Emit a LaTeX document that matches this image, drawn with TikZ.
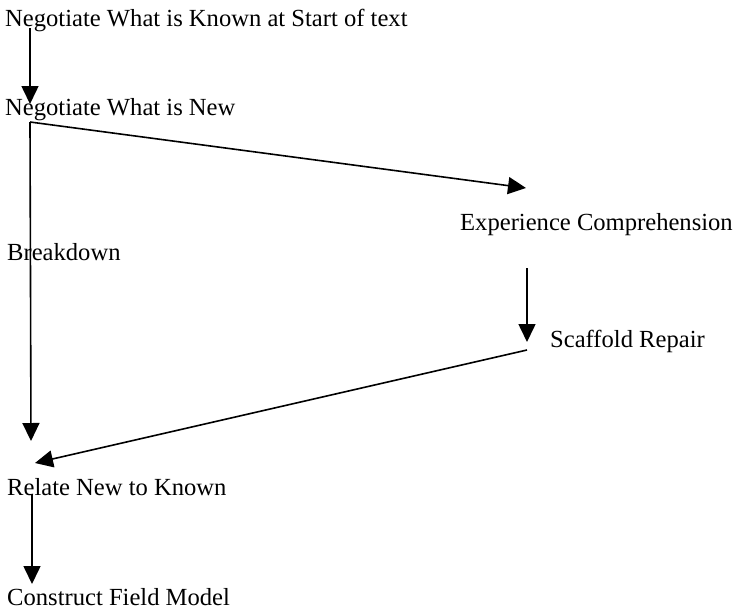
\documentclass[tikz,border=0pt]{standalone}
\usepackage{fontspec}
\setmainfont{Liberation Serif}
\usetikzlibrary{arrows.meta}
\begin{document}
\begin{tikzpicture}[x=1pt,y=-1pt,
  lbl/.style={anchor=base west,inner sep=0pt,font=\fontsize{24.6}{28}\selectfont},
  arr/.style={line width=1.6pt,-{Triangle[length=18pt,width=17pt]}}]
\useasboundingbox (0,0) rectangle (736,613);
\node[lbl] (known) at (5,27) {Negotiate What is Known at Start of text};
\node[lbl] (new) at (5,115) {Negotiate What is New};
\node[lbl] (exp) at (460,230) {Experience Comprehension};
\node[lbl] (brk) at (7,260) {Breakdown};
\node[lbl] (scf) at (550,347) {Scaffold Repair};
\node[lbl] (rel) at (7,495) {Relate New to Known};
\node[lbl] (cfm) at (7,605) {Construct Field Model};
\coordinate (a1s) at (30,28);
\coordinate (a1e) at (30,104);
\coordinate (nb) at (30,122);
\coordinate (expin) at (526,188);
\coordinate (relin) at (31,441);
\coordinate (e1) at (527,268);
\coordinate (e2) at (527,342);
\coordinate (s1) at (527,350);
\coordinate (s2) at (35,463);
\coordinate (r1) at (32,494);
\coordinate (r2) at (32,584);
\draw[arr] (a1s) -- (a1e);
\draw[arr] (nb) -- (expin);
\draw[arr] (nb) -- (relin);
\draw[arr] (e1) -- (e2);
\draw[arr] (s1) -- (s2);
\draw[arr] (r1) -- (r2);
\end{tikzpicture}
\end{document}
